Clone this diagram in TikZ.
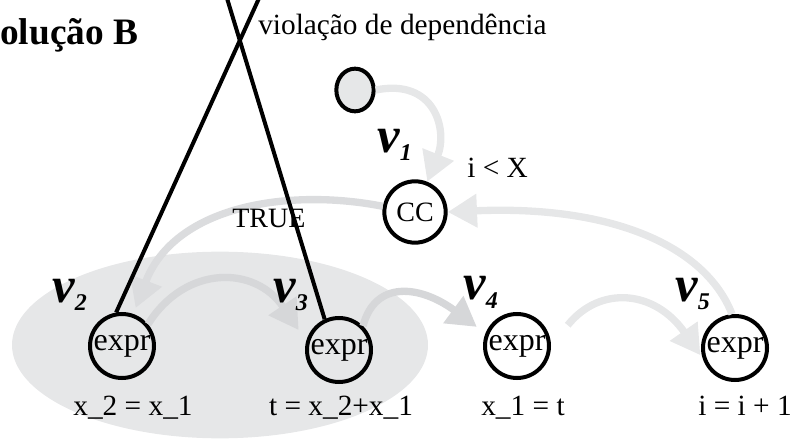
\documentclass[tikz,border=0pt]{standalone}
\usepackage{fontspec}
\setmainfont{Liberation Serif}
\usetikzlibrary{arrows.meta,shapes.geometric}
\definecolor{lg}{HTML}{E6E7E8}
\definecolor{mg}{HTML}{D6D7D9}
\begin{document}
\begin{tikzpicture}[x=0.75pt,y=-0.75pt,
  vnode/.style={circle,draw=black,line width=3pt,minimum size=48pt,inner sep=0pt,font=\fontsize{24}{24}\selectfont},
  ccnode/.style={circle,draw=black,line width=3pt,minimum size=46pt,inner sep=0pt,font=\fontsize{21}{21}\selectfont},
  startnode/.style={ellipse,draw=black,fill=lg,line width=3pt,minimum width=28pt,minimum height=32pt,inner sep=0pt},
  garrow/.style={draw=lg,line width=5.5pt,-{Triangle[length=22pt,width=24pt]}},
  marrow/.style={draw=mg,line width=5.5pt,-{Triangle[length=22pt,width=24pt]}},
  vlab/.style={anchor=base west,inner sep=0pt},
  txt/.style={anchor=base,inner sep=0pt,font=\fontsize{22}{22}\selectfont},
  xline/.style={draw=black,line width=3pt}
]
\useasboundingbox (0,0) rectangle (802,441);
% big grey region
\fill[lg] (220,345) ellipse [x radius=156pt, y radius=70pt];

% nodes
\node[startnode] (s) at (355,90) {};
\node[ccnode] (cc) at (415,212) {CC};
\node[vnode] (v2) at (122,346) {expr};
\node[vnode] (v3) at (339,350) {expr};
\node[vnode] (v4) at (517,346) {expr};
\node[vnode] (v5) at (735,348) {expr};

% grey arrows
\draw[garrow] (s.east) .. controls (435,78) and (448,130) .. (cc.68);
\draw[garrow] (v5.95) .. controls (705,245) and (610,205) .. (cc.east);
\draw[garrow,draw=mg!70!lg] (cc.170) .. controls (290,188) and (175,205) .. ([shift={(2,-6)}]v2.70);
\draw[marrow,shorten >=10pt] (v2.40) .. controls (185,265) and (255,265) .. (v3.165);
\draw[marrow,shorten >=8pt] (v3.45) .. controls (375,280) and (420,285) .. (v4.158);
\draw[garrow,shorten <=20pt,shorten >=3pt] (v4.east) .. controls (600,285) and (655,290) .. (v5.198);

% title texts
\node[anchor=base west,inner sep=0pt,font=\fontsize{28}{28}\selectfont\bfseries] (title) at (0,45) {olução B};
\node[anchor=base west,inner sep=0pt,font=\fontsize{22}{22}\selectfont] (viol) at (258,35) {violação de dependência};

% v labels
\newcommand{\vlabel}[1]{{\fontsize{38}{38}\selectfont\bfseries\itshape v}\raisebox{-6pt}{\fontsize{18}{18}\selectfont\bfseries\itshape #1}}
\node[vlab] (l1) at (377,153) {\vlabel{1}};
\node[vlab] (l2) at (52,302) {\vlabel{2}};
\node[vlab] (l3) at (273,302) {\vlabel{3}};
\node[vlab] (l4) at (463,300) {\vlabel{4}};
\node[vlab] (l5) at (675,301) {\vlabel{5}};

% other texts
\node[txt,anchor=base west] (cond) at (467,178) {i < X};
\node[txt,anchor=base west,font=\fontsize{21}{21}\selectfont] (true) at (232,228) {TRUE};
\node[txt] (e2) at (133,415) {x\_2 = x\_1};
\node[txt] (e3) at (341,415) {t = x\_2+x\_1};
\node[txt] (e4) at (523,415) {x\_1 = t};
\node[txt] (e5) at (745,415) {i = i + 1};

% violation lines
\coordinate (ta) at (260.5,-5);
\coordinate (tb) at (226,-5);
\draw[xline] (ta) -- (v2.100);
\draw[xline] (tb) -- (v3.115);
\end{tikzpicture}
\end{document}
